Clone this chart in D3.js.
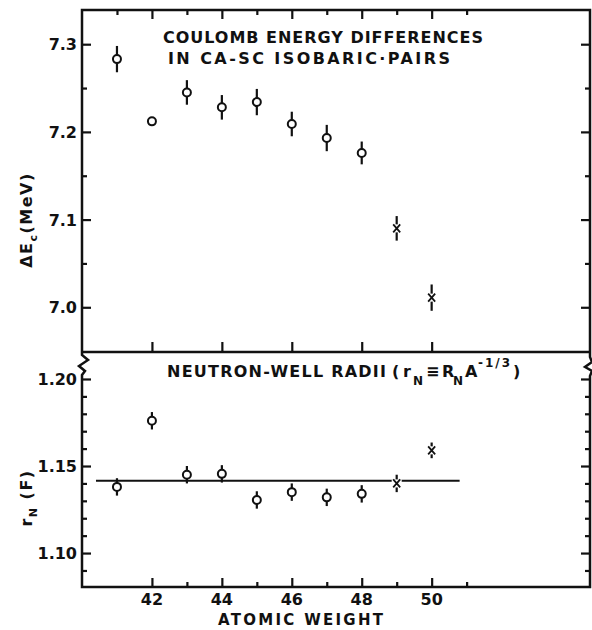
<!DOCTYPE html>
<html>
<head>
<meta charset="utf-8">
<script src="https://cdn.jsdelivr.net/npm/d3@7"></script>
<style>
  html, body { margin: 0; padding: 0; background: #fff; }
  svg { display: block; }
  text { font-family: "DejaVu Sans", sans-serif; font-weight: bold; fill: #111; }
</style>
</head>
<body>
<script>
// Mass numbers of the Ca-Sc isobaric pairs
const massNumbers = [41, 42, 43, 44, 45, 46, 47, 48, 49, 50];
// Coulomb energy differences (MeV) and their uncertainties
const coulombShift = [7.283, 7.212, 7.245, 7.228, 7.234, 7.209, 7.193, 7.176, 7.090, 7.011];
const coulombErr   = [0.015, 0,     0.014, 0.014, 0.015, 0.014, 0.015, 0.013, 0.014, 0.015];
// Neutron-well radius parameters r_N (F) and their uncertainties
const wellRadius    = [1.138, 1.176, 1.145, 1.1455, 1.1305, 1.135, 1.132, 1.134, 1.140, 1.159];
const wellRadiusErr = [0.005, 0.005, 0.005, 0.005, 0.005, 0.005, 0.005, 0.005, 0.005, 0.0045];
// Marker style per pair: "o" measured, "x" extrapolated
const markerType = ["o", "o", "o", "o", "o", "o", "o", "o", "x", "x"];
// Mean radius line and the mass range it covers
const fitRadius = 1.1415;
const fitRange = [40.4, 50.8];
// Tick values
const xLabelTicks = [42, 44, 46, 48, 50];
const topMajor = [7.0, 7.1, 7.2, 7.3];
const topMinor = [7.05, 7.15, 7.25];
const topTickLabels = ["7.0", "7.1", "7.2", "7.3"];
const botMajor = [1.10, 1.15, 1.20];
const botMinor = [1.09, 1.11, 1.12, 1.13, 1.14, 1.16, 1.17, 1.18, 1.19];
const botTickLabels = ["1.10", "1.15", "1.20"];

const W = 592, H = 630;
const L = 82, R = 590, T = 10, MID = 352, B = 587;

const svg = d3.select("body").append("svg").attr("width", W).attr("height", H);

const x = d3.scaleLinear().domain([40, 54.5]).range([L, R - 1]);
const yTop = d3.scaleLinear().domain([6.949, 7.339]).range([MID, T]);
const yBot = d3.scaleLinear().domain([1.0805, 1.2155]).range([B, MID]);

const ink = "#111";

// ---- frame with axis-break zigzags ----
svg.append("path")
  .attr("d", `M${L},${MID} L${L},${T} L${R},${T} L${R},${MID}`)
  .attr("fill", "none").attr("stroke", ink).attr("stroke-width", 2.5);
svg.append("line").attr("x1", L).attr("x2", R).attr("y1", MID).attr("y2", MID)
  .attr("stroke", ink).attr("stroke-width", 2.5);
svg.append("path")
  .attr("d", `M${L},${MID} L${L},355 L88,360 L79,366 L85,371 L${L},375 L${L},${B} L${R},${B} L${R},376 L592,371 L585,367 L592,362 L${R},357 L${R},${MID}`)
  .attr("fill", "none").attr("stroke", ink).attr("stroke-width", 2.5)
  .attr("stroke-linejoin", "miter");

// ---- tick marks (drawn inward) ----
function ticks(g, gen) {
  g.call(gen);
  g.select(".domain").remove();
  g.selectAll(".tick line").attr("stroke", ink).attr("stroke-width", 2.2);
  g.selectAll(".tick text").remove();
}
// top edge: every mass number, long at even
ticks(svg.append("g").attr("transform", `translate(0,${T})`),
  d3.axisBottom(x).tickValues([41, 43, 45, 47, 49, 51]).tickSize(5));
ticks(svg.append("g").attr("transform", `translate(0,${T})`),
  d3.axisBottom(x).tickValues(xLabelTicks).tickSize(9));
// panel divider: upward ticks at even mass numbers
ticks(svg.append("g").attr("transform", `translate(0,${MID})`),
  d3.axisTop(x).tickValues(xLabelTicks).tickSize(10));
// bottom edge
ticks(svg.append("g").attr("transform", `translate(0,${B})`),
  d3.axisTop(x).tickValues(xLabelTicks).tickSize(9));
ticks(svg.append("g").attr("transform", `translate(0,${B})`),
  d3.axisTop(x).tickValues([43, 45, 47, 49, 51]).tickSize(5));
// y ticks, both sides of each panel
[[yTop, topMajor, topMinor], [yBot, botMajor, botMinor]].forEach(([ys, maj, min]) => {
  ticks(svg.append("g").attr("transform", `translate(${L},0)`), d3.axisRight(ys).tickValues(maj).tickSize(9));
  ticks(svg.append("g").attr("transform", `translate(${L},0)`), d3.axisRight(ys).tickValues(min).tickSize(5));
  ticks(svg.append("g").attr("transform", `translate(${R},0)`), d3.axisLeft(ys).tickValues(maj).tickSize(9));
  ticks(svg.append("g").attr("transform", `translate(${R},0)`), d3.axisLeft(ys).tickValues(min).tickSize(5));
});

// ---- tick labels ----
svg.append("g").selectAll("text").data(topMajor).join("text")
  .attr("x", L - 5).attr("y", d => yTop(d) + 6).attr("text-anchor", "end")
  .attr("font-size", 16).text((d, i) => topTickLabels[i]);
svg.append("g").selectAll("text").data(botMajor).join("text")
  .attr("x", L - 5).attr("y", d => yBot(d) + 6).attr("text-anchor", "end")
  .attr("font-size", 16).text((d, i) => botTickLabels[i]);
svg.append("g").selectAll("text").data(xLabelTicks).join("text")
  .attr("x", d => x(d)).attr("y", 605).attr("text-anchor", "middle")
  .attr("font-size", 16).text(d => d);

// ---- axis titles ----
svg.append("text").attr("x", 218).attr("y", 625).attr("font-size", 15)
  .attr("textLength", 165).attr("lengthAdjust", "spacing").text("ATOMIC WEIGHT");

const yt = svg.append("text").attr("transform", "translate(32,220) rotate(-90)")
  .attr("text-anchor", "middle").attr("font-size", 16).attr("letter-spacing", 1.5);
yt.append("tspan").text("ΔE");
yt.append("tspan").attr("dy", 5).attr("font-size", 11).text("c");
yt.append("tspan").attr("dy", -5).text("(MeV)");

const yb = svg.append("text").attr("transform", "translate(32,498) rotate(-90)")
  .attr("text-anchor", "middle").attr("font-size", 16).attr("letter-spacing", 1.5);
yb.append("tspan").text("r");
yb.append("tspan").attr("dy", 5).attr("font-size", 11).text("N");
yb.append("tspan").attr("dy", -5).text(" (F)");

// ---- panel titles ----
svg.append("text").attr("x", 163).attr("y", 43).attr("font-size", 16)
  .attr("textLength", 320).attr("lengthAdjust", "spacing").text("COULOMB ENERGY DIFFERENCES");
svg.append("text").attr("x", 168).attr("y", 64).attr("font-size", 16)
  .attr("textLength", 282).attr("lengthAdjust", "spacing").text("IN CA-SC ISOBARIC·PAIRS");

const bt = svg.append("g").attr("font-size", 16);
bt.append("text").attr("x", 167).attr("y", 377).attr("textLength", 219)
  .attr("lengthAdjust", "spacing").text("NEUTRON-WELL RADII");
bt.append("text").attr("x", 392).attr("y", 377).text("(");
bt.append("text").attr("x", 403).attr("y", 377).text("r");
bt.append("text").attr("x", 413).attr("y", 385).attr("font-size", 12).text("N");
bt.append("text").attr("x", 426).attr("y", 377).text("≡");
bt.append("text").attr("x", 442).attr("y", 377).text("R");
bt.append("text").attr("x", 453).attr("y", 385).attr("font-size", 12).text("N");
bt.append("text").attr("x", 465).attr("y", 377).text("A");
bt.append("text").attr("x", 478).attr("y", 367).attr("font-size", 12)
  .attr("textLength", 32).attr("lengthAdjust", "spacing").text("-1/3");
bt.append("text").attr("x", 513).attr("y", 377).text(")");

// ---- mean radius line ----
svg.append("line")
  .attr("x1", x(fitRange[0])).attr("x2", x(fitRange[1]))
  .attr("y1", yBot(fitRadius)).attr("y2", yBot(fitRadius))
  .attr("stroke", ink).attr("stroke-width", 2);

// ---- data points with error bars ----
function drawPoints(ys, vals, errs) {
  const pts = massNumbers.map((a, i) => ({ a, v: vals[i], e: errs[i], m: markerType[i] }));
  const g = svg.append("g");
  g.selectAll("line.err").data(pts.filter(p => p.e > 0)).join("line")
    .attr("class", "err")
    .attr("x1", p => x(p.a)).attr("x2", p => x(p.a))
    .attr("y1", p => ys(p.v - p.e)).attr("y2", p => ys(p.v + p.e))
    .attr("stroke", ink).attr("stroke-width", 2.2);
  g.selectAll("circle").data(pts.filter(p => p.m === "o")).join("circle")
    .attr("cx", p => x(p.a)).attr("cy", p => ys(p.v)).attr("r", 4)
    .attr("fill", "#fff").attr("stroke", ink).attr("stroke-width", 2);
  const cross = g.selectAll("g.cross").data(pts.filter(p => p.m === "x")).join("g")
    .attr("class", "cross")
    .attr("transform", p => `translate(${x(p.a)},${ys(p.v)})`);
  cross.append("rect").attr("x", -5).attr("y", -4).attr("width", 10).attr("height", 8).attr("fill", "#fff");
  cross.append("path").attr("d", "M-3.5,-4 L3.5,4 M3.5,-4 L-3.5,4")
    .attr("stroke", ink).attr("stroke-width", 1.8).attr("fill", "none");
}
drawPoints(yTop, coulombShift, coulombErr);
drawPoints(yBot, wellRadius, wellRadiusErr);
</script>
</body>
</html>
